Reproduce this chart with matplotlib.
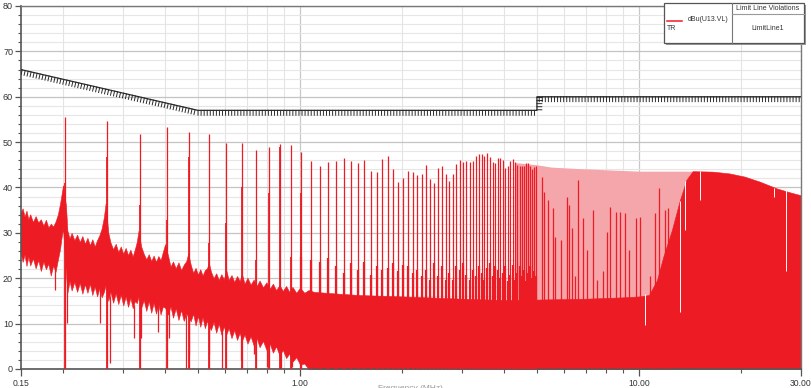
import matplotlib
matplotlib.use("Agg")
import matplotlib.pyplot as plt
import matplotlib.patheffects as pe
from matplotlib.patches import Rectangle
from matplotlib.lines import Line2D

plt.rcParams['font.family'] = ['Liberation Sans', 'DejaVu Sans']

RED = "#ed1c24"
PINK = "#f5a6ab"
W, H = 812, 388

# limit line (MHz, dBuV)
limit_f = [0.15, 0.5, 5.0, 5.0, 30.0]
limit_db = [66, 57, 57, 60, 60]

# broadband noise band (top and bottom edge)
band_f = [0.150, 0.152, 0.154, 0.156, 0.158, 0.160, 0.163, 0.166, 0.169, 0.172,
          0.175, 0.178, 0.181, 0.184, 0.187, 0.190, 0.193, 0.196, 0.198, 0.200,
          0.204, 0.206, 0.209, 0.212, 0.216, 0.220, 0.224, 0.228, 0.232, 0.236,
          0.240, 0.244, 0.248, 0.252, 0.256, 0.260, 0.264, 0.267,
          0.272, 0.276, 0.281, 0.286, 0.291, 0.296, 0.301, 0.306, 0.311, 0.316,
          0.321, 0.326, 0.330, 0.334,
          0.340, 0.346, 0.352, 0.358, 0.364, 0.370, 0.376, 0.382, 0.388, 0.394, 0.400,
          0.408, 0.415, 0.422, 0.430, 0.438, 0.446, 0.454, 0.462, 0.468,
          0.476, 0.484, 0.492, 0.500, 0.508, 0.516, 0.524, 0.532, 0.538,
          0.546, 0.556, 0.566, 0.576, 0.586, 0.596, 0.606, 0.616, 0.628, 0.640,
          0.652, 0.664, 0.674, 0.686, 0.700, 0.715, 0.730, 0.745, 0.760, 0.778,
          0.796, 0.814, 0.832, 0.850, 0.870, 0.890, 0.910, 0.930, 0.950, 0.975,
          1.000, 1.030, 1.060,
          1.10, 1.30, 1.50, 2.00, 3.00, 4.00, 5.00, 7.00, 9.00, 10.0,
          10.7, 11.3, 11.8, 12.5, 13.2, 13.8, 14.4, 16.5, 18.5, 20.5,
          22.7, 25.5, 28.0, 30.0]
band_hi = [34.5, 35.4, 33.6, 34.9, 33.0, 34.1, 32.4, 33.7, 32.3, 33.0,
           31.6, 32.9, 31.2, 32.0, 31.4, 32.5, 34.0, 36.5, 38.5, 40.5,
           36.0, 30.5, 28.8, 30.0, 28.4, 29.6, 28.0, 29.3, 27.6, 28.9,
           27.3, 28.6, 27.0, 28.4, 29.5, 31.0, 33.5, 36.5,
           30.0, 27.9, 26.4, 27.6, 25.8, 27.0, 25.4, 26.7, 25.1, 26.3,
           24.8, 26.5, 28.0, 30.5,
           27.0, 25.4, 24.2, 25.3, 23.8, 25.0, 23.6, 24.9, 24.0, 25.8, 27.5,
           25.0, 22.6, 23.7, 22.2, 23.5, 21.8, 23.0, 23.8, 25.5,
           23.0, 21.2, 22.3, 20.8, 22.0, 20.6, 21.8, 22.2, 23.5,
           21.5, 20.0, 21.1, 19.6, 20.9, 19.8, 21.8, 19.6, 20.7, 19.2,
           20.5, 19.4, 21.0, 18.8, 20.1, 18.6, 19.7, 18.3, 19.5, 18.0,
           19.1, 17.7, 18.8, 17.4, 18.5, 17.2, 18.3, 17.0, 18.1, 16.8,
           17.9, 16.8, 17.4,
           17.0, 16.6, 16.3, 16.0, 15.5, 15.2, 15.3, 15.5, 15.8, 16.0,
           16.3, 19.6, 24.8, 30.6, 37.2, 41.7, 43.6, 43.5, 43.1, 42.4,
           41.3, 39.8, 38.9, 38.3]
band_lo = [25.5, 23.6, 25.2, 22.7, 24.8, 22.8, 24.4, 22.2, 24.0, 21.6,
           23.7, 22.0, 23.2, 20.6, 22.8, 21.4, 24.0, 26.5, 29.0, 31.0,
           21.0, 16.8, 19.4, 17.3, 19.2, 17.0, 19.0, 16.6, 18.7, 16.8,
           18.8, 16.3, 18.2, 16.0, 17.8, 15.8, 17.0, 18.5,
           15.0, 17.0, 14.6, 16.7, 14.3, 16.4, 14.0, 16.0, 13.7, 15.7,
           13.4, 15.0, 14.5, 16.0,
           13.5, 15.2, 12.8, 15.0, 12.4, 14.6, 12.2, 14.2, 12.0, 13.8, 13.5,
           12.0, 13.8, 11.3, 13.4, 10.8, 13.0, 10.6, 12.2, 11.5,
           10.5, 12.2, 9.6, 11.7, 9.3, 11.4, 9.0, 10.6, 9.5,
           8.6, 10.4, 8.0, 10.0, 7.6, 9.4, 7.6, 9.0, 6.8, 8.6,
           6.4, 8.0, 6.2, 7.6, 5.6, 7.2, 5.2, 6.8, 4.8, 6.2,
           4.2, 5.6, 3.6, 5.0, 3.0, 4.2, 2.4, 3.4, 1.6, 2.6,
           1.0, 1.2, 0.0,
           0.0, 0.0, 0.0, 0.0, 0.0, 0.0, 0.0, 0.0, 0.0, 0.0,
           0.0, 0.0, 0.0, 0.0, 0.0, 0.0, 0.0, 0.0, 0.0, 0.0,
           0.0, 0.0, 0.0, 0.0]

# light region where the harmonics crowd together
pink_f = [4.3, 5.0, 5.5, 6.5, 8.0, 10.0, 12.5, 14.4]
pink_hi = [45.5, 45.0, 44.5, 44.2, 43.9, 43.6, 43.6, 43.6]

# harmonic spikes
harm_f = [0.202, 0.269, 0.337, 0.404, 0.471, 0.538, 0.606, 0.673, 0.740, 0.808,
          0.875, 0.942, 1.010, 1.077, 1.144, 1.211, 1.279, 1.346, 1.413, 1.481,
          1.548, 1.615, 1.683, 1.750, 1.817, 1.884, 1.952, 2.019, 2.086, 2.154,
          2.221, 2.288, 2.356, 2.423, 2.490, 2.557, 2.625, 2.692, 2.759, 2.827,
          2.894, 2.961, 3.029, 3.096, 3.163, 3.230, 3.298, 3.365, 3.432, 3.500,
          3.567, 3.634, 3.702, 3.769, 3.836, 3.903, 3.971, 4.038, 4.105, 4.173,
          4.240, 4.307, 4.375, 4.442, 4.509, 4.576, 4.644, 4.711, 4.778, 4.846,
          4.913, 4.980]
harm_db = [55.6, 54.7, 51.8, 53.4, 52.2, 51.9, 49.9, 49.7, 48.3, 48.9,
           49.6, 49.4, 47.9, 45.9, 44.8, 45.6, 45.8, 46.6, 45.8, 45.5,
           46.1, 43.6, 43.5, 46.3, 46.9, 44.1, 41.2, 42.0, 43.7, 43.5,
           42.8, 43.0, 45.0, 41.8, 41.1, 44.4, 44.8, 43.0, 41.4, 43.0,
           45.1, 46.1, 45.7, 45.9, 45.7, 45.9, 46.9, 47.4, 47.3, 46.9,
           47.5, 46.8, 45.6, 45.5, 46.6, 46.4, 46.1, 44.4, 44.8, 45.9,
           46.2, 45.7, 45.0, 44.8, 44.7, 44.7, 45.3, 45.5, 44.7, 44.1,
           44.6, 44.7]
# solid lower part of the first spikes (below 1.05 MHz)
core_db = [41.0, 46.8, 36.1, 32.8, 46.8, 27.7, 32.1, 40.2, 24.0, 38.7,
           49.0, 24.7, 38.7]
# thicker base of each spike above 1 MHz
skirt_db = [24.7, 24.0, 23.6, 24.4, 22.6, 21.1, 23.3, 21.8, 23.6, 20.7,
            22.6, 21.8, 22.2, 23.3, 21.5, 22.9, 22.6, 21.1, 21.8, 20.4,
            21.8, 19.6, 23.3, 20.4, 22.6, 19.6, 21.1, 19.6, 22.6, 21.8,
            23.3, 20.7, 19.6, 21.8, 20.4, 22.6, 21.1, 19.6, 22.2, 23.3,
            20.4, 22.6, 21.8, 20.0, 21.1, 22.6, 19.3, 20.7, 22.9, 19.6,
            21.1, 22.6, 20.4, 21.8, 19.3, 21.1, 22.6, 20.0, 21.5, 20.4]

# darker lines inside the light region
dense_f = [5.16, 5.26, 5.40, 5.56, 5.65, 5.89, 6.12, 6.23, 6.36, 6.49,
           6.62, 6.82, 7.01, 7.33, 7.53, 7.85, 8.03, 8.21, 8.56, 8.79,
           9.09, 9.36, 9.80, 10.07, 10.77, 11.15, 11.48, 11.93, 12.2]
dense_db = [42.4, 39.1, 37.3, 35.4, 29.2, 28.4, 37.9, 36.1, 31.0, 20.4,
            41.7, 33.2, 26.2, 35.1, 19.6, 21.5, 30.3, 35.8, 34.7, 34.7,
            34.3, 26.2, 33.2, 33.6, 20.4, 34.3, 39.8, 35.1, 35.4]

# deep dips under the low-frequency noise
dip_f = [0.189, 0.205, 0.257, 0.275, 0.324, 0.340, 0.380, 0.410, 0.460, 0.470,
         0.540, 0.590, 0.670, 0.730, 0.800, 0.880, 0.950]
dip_lo = [17.4, 10.1, 10.1, 1.3, 6.8, 6.8, 8.2, 6.8, 0.0, 3.4,
          3.4, 0.0, 2.0, 3.4, 0.5, 0.0, 0.5]
dip_hi = [22.0, 20.0, 18.0, 16.0, 14.0, 14.0, 14.0, 13.0, 12.0, 12.0,
          10.0, 10.0, 8.0, 8.0, 7.0, 5.0, 4.0]

# white gaps in the solid region
gap_f = [10.45, 13.2, 13.7, 15.1, 25.1, 27.2]
gap_lo = [9.7, 12.6, 30.6, 37.2, 38.0, 21.5]
gap_hi = [16.5, 37.0, 41.5, 43.6, 39.9, 39.5]

fig = plt.figure(figsize=(W / 100, H / 100), dpi=100)
ax = fig.add_axes([20.7 / W, 1 - 369 / H, 780 / W, 363 / H])
ax.set_xscale("log")
ax.set_xlim(0.15, 30)
ax.set_ylim(0, 80)

# grid
ax.set_yticks(range(0, 81, 10))
ax.set_yticks(range(0, 81, 2), minor=True)
ax.set_xticks([0.15, 1, 10, 30])
ax.set_xticklabels(["0.15", "1.00", "10.00", "30.00"])
minor_x = [0.2, 0.3, 0.4, 0.5, 0.6, 0.7, 0.8, 0.9,
           2, 3, 4, 5, 6, 7, 8, 9, 20]
ax.set_xticks(minor_x, minor=True)
ax.set_xticklabels([], minor=True)
ax.grid(which="major", axis="y", color="#c4c4c4", lw=0.9)
ax.grid(which="minor", axis="y", color="#e6e6e6", lw=0.8)
ax.grid(which="minor", axis="x", color="#e4e4e4", lw=0.8)
for xv in [1, 10]:
    ax.axvline(xv, color="#c8c8c8", lw=0.9, zorder=0.5)
ax.set_axisbelow(True)

# spectrum
ax.fill_between(pink_f, 0, pink_hi, color=PINK, lw=0, zorder=1)
ax.fill_between(band_f, band_lo, band_hi, color=RED, lw=0.4, edgecolor=RED, zorder=2)
ax.vlines(dip_f, dip_lo, dip_hi, color=RED, lw=0.9, zorder=2)
ax.vlines(harm_f, 0, harm_db, color=RED, lw=0.9, zorder=3)
ax.vlines(harm_f[:13], 0, core_db, color=RED, lw=1.3, zorder=3)
ax.vlines(harm_f[12:], 0, skirt_db, color=RED, lw=1.6, zorder=3)
ax.vlines(dense_f, 0, dense_db, color=RED, lw=0.9, zorder=3)
ax.vlines(gap_f, gap_lo, gap_hi, color="white", lw=0.7, zorder=3)

# limit line with hatching underneath
ax.plot(limit_f, limit_db, color="#2a2a2a", lw=0.9, zorder=5,
        path_effects=[pe.withTickedStroke(angle=-90, spacing=2.2, length=1.6,
                                          linewidth=0.7)])

# axes styling
for s in ["left", "bottom"]:
    ax.spines[s].set_color("#555555")
    ax.spines[s].set_linewidth(1.2)
for s in ["top", "right"]:
    ax.spines[s].set_color("#777777")
    ax.spines[s].set_linewidth(1.0)
ax.tick_params(axis="y", which="major", length=4, width=0.9, color="#555555",
               labelsize=6.5, labelcolor="#333333", pad=1.5)
ax.tick_params(axis="y", which="minor", length=2.5, width=0.8, color="#555555")
ax.tick_params(axis="x", which="major", length=5, width=0.9, color="#555555",
               labelsize=6.2, labelcolor="#333333", pad=2)
ax.tick_params(axis="x", which="minor", length=3, width=0.8, color="#555555")

# x label mostly off the bottom edge, as in the source
fig.text(410 / W, 1 - 385.5 / H, "Frequency (MHz)", fontsize=6, color="#999999",
         ha="center", va="top")

# legend table
def fx(px):
    return px / W

def fy(py):
    return 1 - py / H

fig.add_artist(Rectangle((fx(666.5), fy(44.5)), fx(140), 39.5 / H,
                         facecolor="#9a9a9a", edgecolor="none", zorder=10))
fig.add_artist(Rectangle((fx(664.5), fy(42.5)), fx(139.5), 39.5 / H,
                         facecolor="white", edgecolor="#555555", lw=0.9, zorder=11))
fig.add_artist(Line2D([fx(731.7), fx(731.7)], [fy(3), fy(42.5)],
                      color="#777777", lw=0.8, zorder=12))
fig.add_artist(Line2D([fx(731.7), fx(804)], [fy(14), fy(14)],
                      color="#999999", lw=0.8, zorder=12))
fig.add_artist(Line2D([fx(667), fx(682)], [fy(20.5), fy(20.5)],
                      color=RED, lw=1.1, zorder=12))
fig.text(fx(767.5), fy(8.5), "Limit Line Violations", fontsize=5, color="#333333",
         ha="center", va="center", zorder=13)
fig.text(fx(708.5), fy(19.5), "dBu(U13.VL)", fontsize=5, color="#333333",
         ha="center", va="center", zorder=13)
fig.text(fx(667), fy(29), "TR", fontsize=5, color="#333333",
         ha="left", va="center", zorder=13)
fig.text(fx(767.5), fy(29), "LimitLine1", fontsize=5, color="#333333",
         ha="center", va="center", zorder=13)

fig.savefig("out.png", dpi=100)
